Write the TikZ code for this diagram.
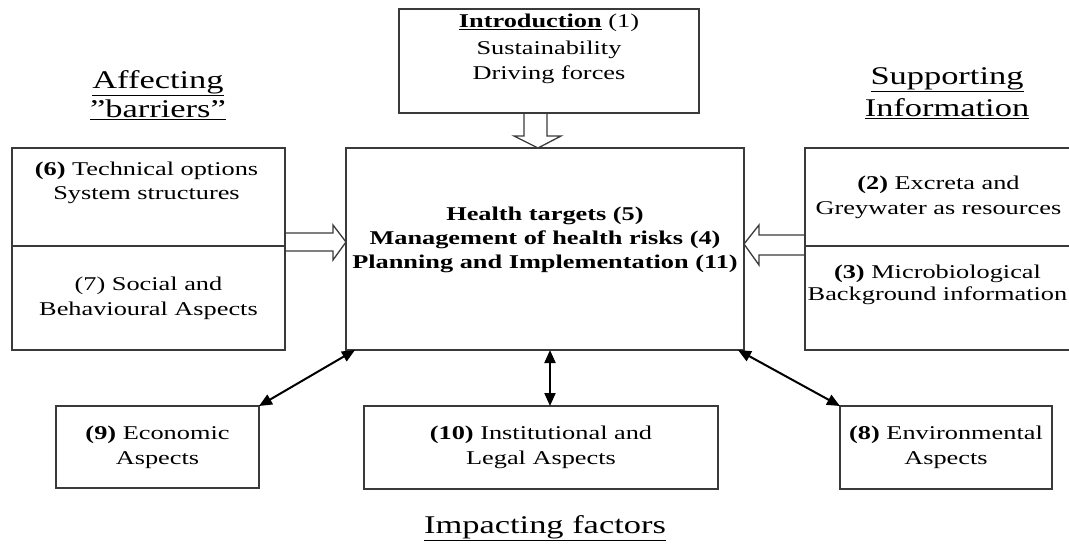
\documentclass[tikz,border=0pt]{standalone}
\usepackage{fontspec}
\setmainfont{Liberation Serif}[FakeStretch=1.35]
\usetikzlibrary{arrows.meta, positioning, calc}
\definecolor{frameGrey}{HTML}{3A3A3A}

\begin{document}
\begin{tikzpicture}[x=1pt, y=-1pt,
  every node/.style={font=\fontsize{19.5}{25}\selectfont, align=center, inner sep=0pt, outer sep=0pt},
  frameBox/.style={draw=frameGrey, line width=1.3pt, fill=white},
  headText/.style={font=\fontsize{25.5}{30}\selectfont},
  biArrow/.style={{Triangle[length=13pt, width=11pt]}-{Triangle[length=13pt, width=11pt]}, line width=2pt},
  hollowArrow/.style={draw=frameGrey, line width=1.3pt, line join=miter}
]

  \useasboundingbox (0,0) rectangle (1069,544);
  \clip (0,0) rectangle (1069,544);

  \node[frameBox, minimum width=398pt, minimum height=202pt] (centre) at (545,249) {};
  \node[frameBox, minimum width=300pt, minimum height=104pt] (intro) at (549,61) {};

  \node[frameBox, minimum width=273pt, minimum height=98pt] (tech) at (148.5,197) {};
  \node[frameBox, minimum width=273pt, minimum height=104pt, below=0pt of tech] (social) {(7) Social and\\Behavioural Aspects};

  \node[frameBox, minimum width=267pt, minimum height=98pt] (excreta) at (938.5,197) {\textbf{(2)} Excreta and\\Greywater as resources};
  \node[frameBox, minimum width=267pt, minimum height=104pt, below=0pt of excreta] (microbio) {};

  \node[frameBox, minimum width=203pt, minimum height=82pt] (econ) at (157.5,447) {\textbf{(9)} Economic\\Aspects};
  \node[frameBox, minimum width=354pt, minimum height=83pt, below=56pt of centre, xshift=-4pt] (legal) {\textbf{(10)} Institutional and\\Legal Aspects};
  \node[frameBox, minimum width=212pt, minimum height=83pt] (env) at (946,447.5) {\textbf{(8)} Environmental\\Aspects};

  \node[anchor=north] (introText) at ($(intro.north)+(0,5)$) {\underline{\textbf{Introduction}} (1)\\[2pt]Sustainability\\Driving forces};
  \node[anchor=north, font=\fontsize{19.5}{25}\selectfont\bfseries] (centreText) at ($(centre.north)+(0,59)$) {Health targets (5)\\[-1pt]Management of health risks (4)\\[-1pt]Planning and Implementation (11)};
  \node[anchor=north] (techText) at ($(tech.north)+(-2,14)$) {\textbf{(6)} Technical options\\[-1pt]System structures};
  \node[anchor=north] (microText) at ($(microbio.north)+(-1,18.5)$) {\textbf{(3)} Microbiological\\[-3pt]Background information};

  \node[headText, anchor=north] (barrierHead) at (158,70.5) {\underline{Affecting}\\[-1pt]\underline{”barriers”}};
  \node[headText, anchor=north] (supportHead) at (947,67.5) {\underline{Supporting}\\[2pt]\underline{Information}};
  \node[headText, anchor=base] (impactHead) at (545,533) {\underline{Impacting factors}};

  \draw[hollowArrow] ($(intro.south)+(-25,0)$) -- ++(0,23) -- ++(-10,0) -- ($(centre.north)+(-7,0)$) -- ($(intro.south)+(12,23)$) -- ++(-14,0) -- ($(intro.south)+(-2,0)$);
  \draw[hollowArrow] ($(tech.south east)+(0,-13)$) -- ++(48,0) -- ++(0,-8) -- ($(centre.west)+(0,-7)$) -- ($(tech.south east)+(48,14)$) -- ++(0,-9) -- ($(tech.south east)+(0,5)$);
  \draw[hollowArrow] ($(excreta.south west)+(0,-11)$) -- ++(-46,0) -- ++(0,-10) -- ($(centre.east)+(0,-5)$) -- ($(excreta.south west)+(-46,19)$) -- ++(0,-10) -- ($(excreta.south west)+(0,9)$);

  \draw[biArrow] ([xshift=9pt]centre.south west) -- (econ.north east);
  \draw[biArrow] ([xshift=5pt]centre.south) -- ([xshift=5pt]centre.south |- legal.north);
  \draw[biArrow] ([xshift=-6pt]centre.south east) -- (env.north west);

\end{tikzpicture}
\end{document}
